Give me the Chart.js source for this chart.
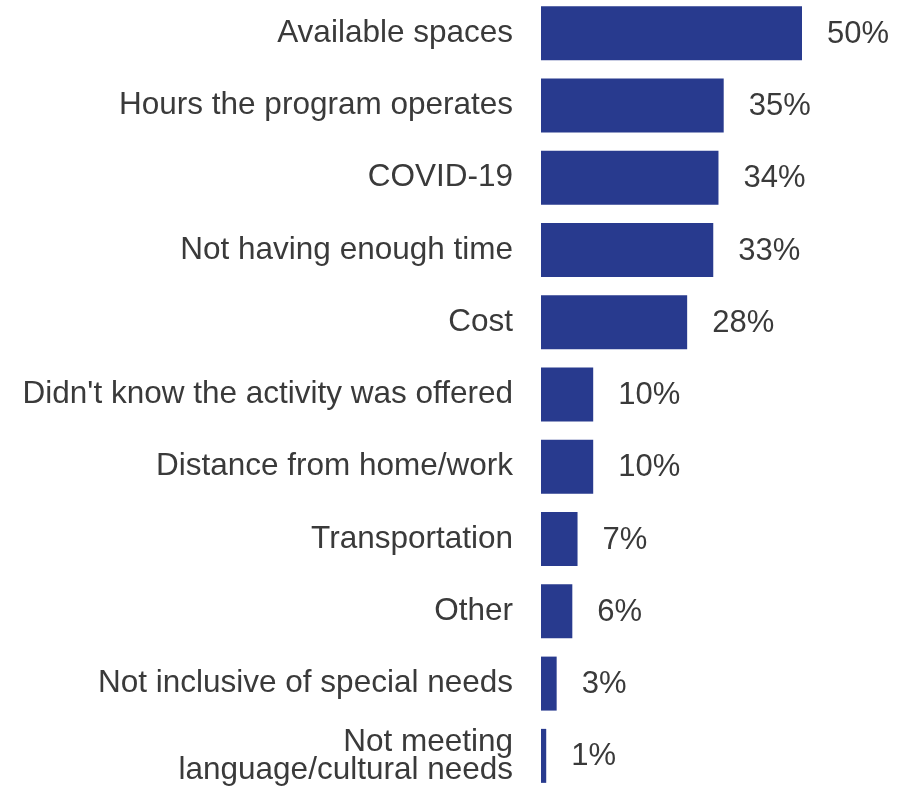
<!DOCTYPE html>
<html>
<head>
<meta charset="utf-8">
<script src="https://cdn.jsdelivr.net/npm/chart.js@4"></script>
<style>
html,body{margin:0;padding:0;background:#fff;overflow:hidden;}
#wrap{position:absolute;left:0;top:-3px;width:920px;height:795px;}
</style>
</head>
<body>
<div id="wrap"><canvas id="c" width="920" height="795"></canvas></div>
<script>
const categories = [
  "Available spaces",
  "Hours the program operates",
  "COVID-19",
  "Not having enough time",
  "Cost",
  "Didn't know the activity was offered",
  "Distance from home/work",
  "Transportation",
  "Other",
  "Not inclusive of special needs",
  ["Not meeting", "language/cultural needs"]
];
const values = [50, 35, 34, 33, 28, 10, 10, 7, 6, 3, 1];
const valueLabels = ["50%", "35%", "34%", "33%", "28%", "10%", "10%", "7%", "6%", "3%", "1%"];

const FONT = "'Liberation Sans', Arial, sans-serif";
const TEXT = "#3a3a3a";
const BAR = "#283a8e";

const valuePlugin = {
  id: 'valueLabels',
  afterDraw(chart) {
    const ctx = chart.ctx;
    const meta = chart.getDatasetMeta(0);
    ctx.save();
    ctx.font = "31px " + FONT;
    ctx.fillStyle = TEXT;
    ctx.textAlign = 'left';
    ctx.textBaseline = 'middle';
    meta.data.forEach((bar, i) => {
      ctx.fillText(valueLabels[i], bar.x + 25, bar.y + 1);
    });
    ctx.restore();
  }
};

new Chart(document.getElementById('c'), {
  type: 'bar',
  data: {
    labels: categories,
    datasets: [{
      data: values,
      backgroundColor: BAR,
      borderWidth: 0,
      barPercentage: 0.747,
      categoryPercentage: 1.0
    }]
  },
  options: {
    indexAxis: 'y',
    responsive: false,
    animation: false,
    devicePixelRatio: 1,
    layout: { padding: { left: 0, right: 118, top: 0, bottom: 0 } },
    plugins: { legend: { display: false }, tooltip: { enabled: false } },
    scales: {
      x: { display: false, min: 0, max: 50 },
      y: {
        grid: { display: false, drawTicks: false },
        border: { display: false },
        ticks: {
          padding: 28,
          color: TEXT,
          font: { family: FONT, size: 31.5, lineHeight: 0.89 }
        },
        afterFit(scale) {
          scale.width = 541;
          scale.paddingTop = 0;
          scale.paddingBottom = 0;
        }
      }
    }
  },
  plugins: [valuePlugin]
});
</script>
</body>
</html>
